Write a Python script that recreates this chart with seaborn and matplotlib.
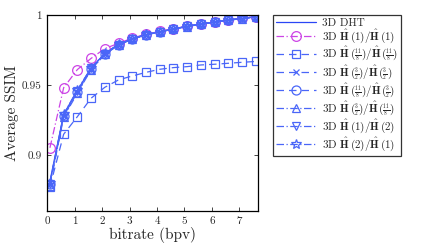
import numpy as np
import pandas as pd
import seaborn as sns
import matplotlib.pyplot as plt

# ---------------- Data ----------------
bitrate = [0.1, 0.6, 1.1, 1.6, 2.1, 2.6, 3.1, 3.6, 4.1, 4.6, 5.1, 5.6, 6.1, 6.6, 7.1, 7.6]

ssim_dht = [0.881, 0.929, 0.946, 0.962, 0.9726, 0.979, 0.983, 0.986, 0.988, 0.990, 0.992, 0.9936, 0.995, 0.9964, 0.9976, 0.9988]
ssim_1_1 = [0.905, 0.948, 0.961, 0.969, 0.976, 0.9798, 0.9835, 0.9863, 0.9883, 0.9902, 0.9921, 0.9937, 0.9951, 0.9965, 0.9977, 0.9989]
ssim_118_118 = [0.877, 0.9147, 0.9273, 0.9405, 0.9483, 0.9536, 0.9564, 0.959, 0.9612, 0.9624, 0.9631, 0.9643, 0.9648, 0.9655, 0.9662, 0.9668]
ssim_32_32 = [0.880, 0.928, 0.945, 0.961, 0.972, 0.9787, 0.9828, 0.9858, 0.9879, 0.9899, 0.9918, 0.9935, 0.9949, 0.9963, 0.9975, 0.9987]
ssim_118_32 = [0.879, 0.928, 0.945, 0.9615, 0.9722, 0.9788, 0.9829, 0.9859, 0.9880, 0.9900, 0.9919, 0.9935, 0.9950, 0.9964, 0.9976, 0.9988]
ssim_32_118 = [0.878, 0.927, 0.944, 0.961, 0.9718, 0.9786, 0.9828, 0.9858, 0.9879, 0.9899, 0.9918, 0.9934, 0.9949, 0.9963, 0.9975, 0.9987]
ssim_1_2 = [0.879, 0.928, 0.946, 0.962, 0.9724, 0.9789, 0.9830, 0.9860, 0.9880, 0.9900, 0.9919, 0.9936, 0.9950, 0.9964, 0.9976, 0.9988]
ssim_2_1 = [0.880, 0.929, 0.9465, 0.9622, 0.9727, 0.9791, 0.9831, 0.9861, 0.9881, 0.9901, 0.9920, 0.9936, 0.9950, 0.9964, 0.9976, 0.9988]

# small fractions for the legend labels
f118 = r"\genfrac{}{}{0.5}{2}{11}{8}"
f32 = r"\genfrac{}{}{0.5}{2}{3}{2}"
labels = [
    "3D DHT",
    r"3D $\hat{\mathbf{H}}\,(1)/\hat{\mathbf{H}}\,(1)$",
    r"3D $\hat{\mathbf{H}}\,(" + f118 + r")/\hat{\mathbf{H}}\,(" + f118 + ")$",
    r"3D $\hat{\mathbf{H}}\,(" + f32 + r")/\hat{\mathbf{H}}\,(" + f32 + ")$",
    r"3D $\hat{\mathbf{H}}\,(" + f118 + r")/\hat{\mathbf{H}}\,(" + f32 + ")$",
    r"3D $\hat{\mathbf{H}}\,(" + f32 + r")/\hat{\mathbf{H}}\,(" + f118 + ")$",
    r"3D $\hat{\mathbf{H}}\,(1)/\hat{\mathbf{H}}\,(2)$",
    r"3D $\hat{\mathbf{H}}\,(2)/\hat{\mathbf{H}}\,(1)$",
]
series = [ssim_dht, ssim_1_1, ssim_118_118, ssim_32_32, ssim_118_32, ssim_32_118, ssim_1_2, ssim_2_1]

xticks = [0, 1, 2, 3, 4, 5, 6, 7]
yticks = [0.9, 0.95, 1.0]
yticklabels = ["0.9", "0.95", "1"]

# ---------------- Styles ----------------
blue = "#2a46f5"
light_blue = "#4a66f8"
magenta = "#cc44e6"
colors = [blue, magenta, light_blue, light_blue, light_blue, light_blue, light_blue, light_blue]
markers = [None, "o", "s", "x", "o", "^", "v", "*"]
dashes = ["-", (0, (6, 2, 1, 2)), (0, (6, 4)), (0, (6, 4)), (0, (6, 4)),
          (0, (6, 2, 1, 2)), (0, (6, 2, 1, 2)), (0, (6, 2, 1, 2))]
msizes = [0, 7, 5.5, 5, 6.5, 6, 6, 7]

sns.set_style("ticks")
plt.rcParams["font.family"] = "serif"
plt.rcParams["font.serif"] = ["cmr10", "DejaVu Serif"]
plt.rcParams["mathtext.fontset"] = "cm"
plt.rcParams["axes.formatter.use_mathtext"] = True

fig = plt.figure(figsize=(4.25, 2.47), dpi=100)
ax = fig.add_axes([0.111, 0.147, 0.496, 0.792])

for i, (lab, vals) in enumerate(zip(labels, series)):
    df = pd.DataFrame({"bitrate": bitrate, "ssim": vals})
    sns.lineplot(data=df, x="bitrate", y="ssim", ax=ax, color=colors[i],
                 linestyle=dashes[i], marker=markers[i], markersize=msizes[i],
                 markerfacecolor="none", markeredgecolor=colors[i],
                 markeredgewidth=0.9, linewidth=0.9, label=lab)

ax.set_xlim(0, 7.68)
ax.set_ylim(0.86, 1.0)
ax.set_xticks(xticks)
ax.set_xticklabels([str(t) for t in xticks])
ax.set_yticks(yticks)
ax.set_yticklabels(yticklabels)
ax.tick_params(direction="in", top=True, right=True, labelsize=8, length=3, width=0.6, pad=4)
for s in ax.spines.values():
    s.set_linewidth(0.9)
    s.set_color("black")
ax.set_xlabel("bitrate (bpv)", fontsize=11, labelpad=1)
ax.set_ylabel("Average SSIM", fontsize=11, labelpad=2)

leg = ax.legend(loc="upper left", bbox_to_anchor=(0.642, 0.94), bbox_transform=fig.transFigure,
                fontsize=8, frameon=True, fancybox=False, edgecolor="black",
                handlelength=3.6, borderpad=0.3, labelspacing=0.0, handletextpad=0.5,
                borderaxespad=0)
leg.get_frame().set_linewidth(0.9)

fig.savefig("out.png", dpi=100)
